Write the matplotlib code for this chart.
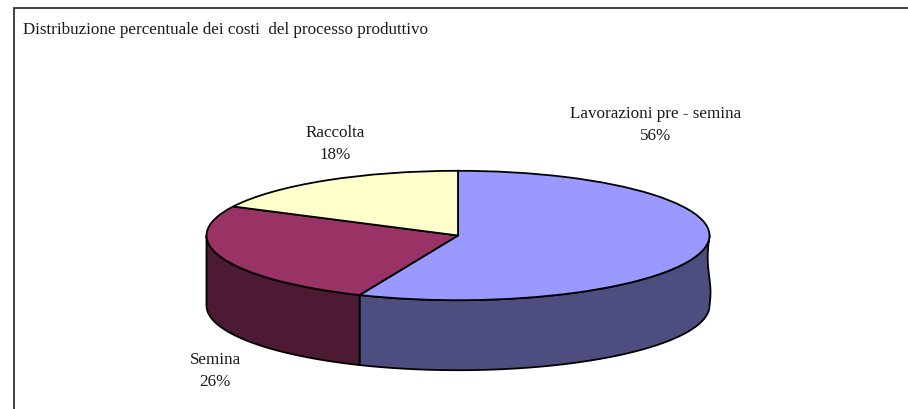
import numpy as np
import matplotlib
matplotlib.use("Agg")
import matplotlib.pyplot as plt

title = "Distribuzione percentuale dei costi  del processo produttivo"
categories = ["Lavorazioni pre - semina", "Semina", "Raccolta"]
values = [56.4, 26.0, 17.6]
top_colors = ["#9999FF", "#993366", "#FFFFCC"]
side_colors = ["#4D4D80", "#4D1A33", "#808066"]

W, H = 908, 409
CX, CY, RX, RY, DEPTH = 458.0, 235.5, 251.5, 64.7, 70.0
LW = 1.3

plt.rcParams["font.family"] = ["Liberation Serif", "DejaVu Serif"]
fig = plt.figure(figsize=(W / 100, H / 100), dpi=100, facecolor="white")
ax = fig.add_axes([0, 0, 1, 1])


def px(x, y):
    return (x - CX) / RX, (CY - y) / RY


ax.pie(values, colors=top_colors, startangle=90, counterclock=False, radius=1,
       wedgeprops=dict(edgecolor="black", linewidth=LW, zorder=3))
ax.set_aspect("auto")
ax.set_xlim(px(0, 0)[0], px(W, 0)[0])
ax.set_ylim(px(0, H)[1], px(0, 0)[1])
ax.axis("on")
ax.set_xticks([])
ax.set_yticks([])
for s in ax.spines.values():
    s.set_visible(False)

# side walls, from the cumulative shares (clockwise from 12 o'clock)
d = DEPTH / RY
edges = np.concatenate([[0], np.cumsum(values)]) / np.sum(values) * 2 * np.pi
for i, color in enumerate(side_colors):
    a0, a1 = max(edges[i], np.pi / 2), min(edges[i + 1], 3 * np.pi / 2)
    if a1 <= a0:
        continue
    t = np.linspace(a0, a1, 200)
    x, y = np.sin(t), np.cos(t)
    if i == 0:
        # slight waviness of the wall's right edge
        s = np.linspace(0, 1, 30)
        wx = 1 + (-1.8 * np.sin(np.pi * s / 0.62) * (s < 0.62) + 1.0 * np.sin(np.pi * (s - 0.62) / 0.38) * (s >= 0.62)) / RX
        wy = -d * s
        ax.fill(np.r_[x, (x[::-1])[:-1], wx[::-1]], np.r_[y, (y - d)[::-1][:-1], wy[::-1]],
                facecolor=color, edgecolor="black", linewidth=LW, zorder=2)
    else:
        ax.fill(np.r_[x, x[::-1]], np.r_[y, (y - d)[::-1]],
                facecolor=color, edgecolor="black", linewidth=LW, zorder=2)

# frame
ax.plot(*zip(px(13.5, H), px(13.5, 7.5), px(W, 7.5)), color="#333333", lw=1.3,
        solid_joinstyle="miter", zorder=1, clip_on=False)

FS = 12.27
ax.text(*px(23, 33.5), title, fontsize=FS, color="#1a1a1a", ha="left", va="baseline")
pos = {"Lavorazioni pre - semina": (656, 124.5), "Semina": (215, 371), "Raccolta": (335, 144)}
for name, v in zip(categories, values):
    ax.text(*px(*pos[name]), f"{name}\n{round(v)}%", fontsize=FS, color="#1a1a1a",
            ha="center", va="center", linespacing=1.5)

fig.savefig("out.png", dpi=100, facecolor="white")
